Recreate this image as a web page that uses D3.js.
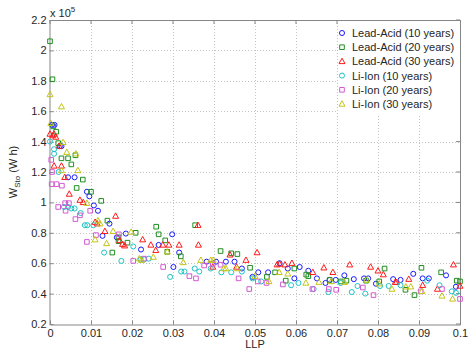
<!DOCTYPE html>
<html>
<head>
<meta charset="utf-8">
<script src="https://cdn.jsdelivr.net/npm/d3@7"></script>
<style>
  body { margin: 0; background: #fff; }
  svg { display: block; font-family: "Liberation Sans", Arial, sans-serif; }
</style>
</head>
<body>
<div id="chart"></div>
<script>
// x = LLP, y in units of 1e5 W h
const leadAcid10 = [[0.0005,1.51],[0.0011,1.51],[0.0024,1.37],[0.0028,1.37],[0.0044,1.165],[0.006,1.165],[0.009,1.07],[0.0096,1.04],[0.0107,0.98],[0.0117,0.945],[0.0128,0.78],[0.0145,0.86],[0.0163,0.77],[0.0185,0.795],[0.0222,0.69],[0.0265,0.72],[0.0298,0.79],[0.0301,0.575],[0.0315,0.67],[0.0382,0.61],[0.0405,0.61],[0.0429,0.61],[0.045,0.61],[0.0468,0.565],[0.0494,0.51],[0.0508,0.54],[0.0532,0.54],[0.056,0.6],[0.058,0.565],[0.0596,0.5],[0.0609,0.575],[0.063,0.55],[0.0651,0.5],[0.0672,0.47],[0.0682,0.49],[0.0697,0.49],[0.0718,0.52],[0.0741,0.495],[0.0766,0.5],[0.0776,0.5],[0.0795,0.465],[0.0837,0.495],[0.0855,0.49],[0.0886,0.53],[0.0909,0.5],[0.0924,0.5],[0.0966,0.52],[0.099,0.445]];
const leadAcid20 = [[0,2.06],[0.0006,1.81],[0.0008,1.5],[0.0015,1.465],[0.002,1.39],[0.0028,1.29],[0.0044,1.29],[0.0062,1.31],[0.0052,1.25],[0.008,1.15],[0.0065,1.095],[0.01,1.07],[0.0125,1.01],[0.014,0.88],[0.0152,0.67],[0.0167,0.745],[0.0167,0.77],[0.0189,0.735],[0.0209,0.8],[0.0259,0.84],[0.0265,0.79],[0.0281,0.75],[0.0286,0.675],[0.0319,0.645],[0.0354,0.85],[0.0416,0.68],[0.0442,0.665],[0.0457,0.66],[0.0488,0.57],[0.0529,0.51],[0.0549,0.54],[0.0575,0.485],[0.0596,0.565],[0.0625,0.525],[0.063,0.515],[0.0682,0.49],[0.0709,0.48],[0.0723,0.485],[0.0771,0.485],[0.0803,0.48],[0.0816,0.565],[0.0867,0.425],[0.0889,0.39],[0.0906,0.57],[0.0954,0.54],[0.0992,0.485],[0.1,0.48]];
const leadAcid30 = [[0,1.45],[0.001,1.45],[0.0007,1.44],[0.0014,1.43],[0.0022,1.37],[0.001,1.24],[0.0028,1.24],[0.0036,1.165],[0.0047,1.055],[0.0073,1.015],[0.0081,1.0],[0.011,0.87],[0.0115,0.86],[0.0134,0.81],[0.016,0.91],[0.017,0.75],[0.0177,0.725],[0.0182,0.715],[0.0226,0.755],[0.0246,0.72],[0.0258,0.685],[0.0275,0.72],[0.029,0.72],[0.0315,0.72],[0.0361,0.85],[0.0362,0.72],[0.0397,0.575],[0.0439,0.655],[0.0455,0.575],[0.0478,0.62],[0.0505,0.67],[0.0554,0.59],[0.056,0.595],[0.0573,0.59],[0.059,0.6],[0.0641,0.54],[0.0668,0.57],[0.069,0.54],[0.0731,0.59],[0.0782,0.575],[0.08,0.55],[0.0813,0.525],[0.0842,0.475],[0.0845,0.475],[0.0875,0.495],[0.0909,0.455],[0.0945,0.43],[0.0984,0.59],[0.1,0.45]];
const liIon10 = [[0,1.4],[0.001,1.35],[0.001,1.32],[0.0021,1.2],[0.0034,0.97],[0.0044,0.97],[0.0052,0.96],[0.006,0.96],[0.0075,0.93],[0.0085,0.85],[0.0091,0.85],[0.0106,0.85],[0.0132,0.67],[0.0174,0.615],[0.0203,0.71],[0.0221,0.625],[0.0241,0.63],[0.023,0.625],[0.032,0.545],[0.0328,0.545],[0.0293,0.51],[0.0353,0.565],[0.0364,0.545],[0.0392,0.565],[0.0418,0.54],[0.0442,0.54],[0.0468,0.545],[0.0494,0.5],[0.0515,0.48],[0.0588,0.455],[0.0606,0.47],[0.0643,0.43],[0.0679,0.41],[0.0709,0.47],[0.0736,0.41],[0.075,0.45],[0.0769,0.4],[0.0805,0.45],[0.0826,0.45],[0.0855,0.455],[0.092,0.485],[0.095,0.455],[0.098,0.415],[0.099,0.405]];
const liIon20 = [[0.0003,1.28],[0.0005,1.2],[0.0004,1.12],[0.0016,1.12],[0.0029,1.11],[0.002,0.97],[0.0037,0.995],[0.0046,0.995],[0.0038,0.945],[0.0062,0.89],[0.0073,0.915],[0.009,0.74],[0.0098,0.945],[0.0112,0.785],[0.0168,0.79],[0.0203,0.615],[0.0229,0.63],[0.0276,0.575],[0.034,0.515],[0.0356,0.5],[0.0376,0.585],[0.0397,0.595],[0.0416,0.59],[0.046,0.5],[0.0486,0.43],[0.0507,0.48],[0.0528,0.47],[0.0568,0.46],[0.064,0.43],[0.068,0.43],[0.0698,0.425],[0.0763,0.44],[0.0789,0.39],[0.0904,0.415],[0.0956,0.43],[0.1,0.365]];
const liIon30 = [[0,1.71],[0.0028,1.63],[0.0002,1.52],[0.0032,1.395],[0.0041,1.33],[0.0063,1.32],[0.0028,1.21],[0.0068,1.21],[0.009,0.995],[0.0117,0.88],[0.0122,0.86],[0.011,0.755],[0.0138,0.73],[0.0154,0.81],[0.0198,0.805],[0.0218,0.63],[0.0223,0.62],[0.0252,0.64],[0.0286,0.675],[0.0325,0.605],[0.0368,0.62],[0.0392,0.62],[0.0398,0.62],[0.0424,0.565],[0.0429,0.565],[0.0457,0.565],[0.05,0.515],[0.0534,0.48],[0.0559,0.54],[0.058,0.53],[0.0624,0.47],[0.0656,0.475],[0.0686,0.48],[0.0718,0.475],[0.0772,0.49],[0.0803,0.465],[0.0834,0.43],[0.0868,0.445],[0.088,0.445],[0.0907,0.415],[0.0956,0.385],[0.0982,0.365]];

const seriesNames = ['Lead-Acid (10 years)', 'Lead-Acid (20 years)', 'Lead-Acid (30 years)', 'Li-Ion (10 years)', 'Li-Ion (20 years)', 'Li-Ion (30 years)'];
const seriesData = [leadAcid10, leadAcid20, leadAcid30, liIon10, liIon20, liIon30];
const seriesColors = ['#1a1aff', '#1f8f1f', '#ff1a1a', '#1ec4c4', '#d25ad2', '#c4c41a'];
const seriesShapes = ['circle', 'square', 'triangle', 'circle', 'square', 'triangle'];

const xTicks = [0, 0.01, 0.02, 0.03, 0.04, 0.05, 0.06, 0.07, 0.08, 0.09, 0.1];
const xTickLabels = ['0', '0.01', '0.02', '0.03', '0.04', '0.05', '0.06', '0.07', '0.08', '0.09', '0.1'];
const yTicks = [0.2, 0.4, 0.6, 0.8, 1, 1.2, 1.4, 1.6, 1.8, 2, 2.2];
const yTickLabels = ['0.2', '0.4', '0.6', '0.8', '1', '1.2', '1.4', '1.6', '1.8', '2', '2.2'];

const width = 468, height = 349;
const mLeft = 50, mRight = 460, mTop = 20, mBottom = 324;
const axisColor = '#868686';

const svg = d3.select('#chart').append('svg')
    .attr('width', width)
    .attr('height', height);

const x = d3.scaleLinear().domain([0, 0.1]).range([mLeft, mRight]);
const y = d3.scaleLinear().domain([0.2, 2.2]).range([mBottom, mTop]);

// grid
const grid = svg.append('g')
    .attr('stroke', '#c4c4c4')
    .attr('stroke-width', 1)
    .attr('stroke-dasharray', '1,2');
xTicks.slice(1, -1).forEach(t => {
    grid.append('line')
        .attr('x1', Math.round(x(t)) + 0.5).attr('x2', Math.round(x(t)) + 0.5)
        .attr('y1', mTop).attr('y2', mBottom);
});
yTicks.slice(1, -1).forEach(t => {
    grid.append('line')
        .attr('y1', Math.round(y(t)) + 0.5).attr('y2', Math.round(y(t)) + 0.5)
        .attr('x1', mLeft).attr('x2', mRight);
});

// axes with inward ticks
const xAxis = d3.axisBottom(x).tickValues(xTicks).tickSize(-4).tickSizeOuter(0)
    .tickFormat((d, i) => xTickLabels[i]);
const yAxis = d3.axisLeft(y).tickValues(yTicks).tickSize(-4).tickSizeOuter(0)
    .tickFormat((d, i) => yTickLabels[i]);

const gx = svg.append('g').attr('transform', `translate(0,${mBottom + 0.5})`).call(xAxis);
const gy = svg.append('g').attr('transform', `translate(${mLeft - 0.5},0)`).call(yAxis);
[gx, gy].forEach(g => {
    g.select('.domain').attr('stroke', axisColor);
    g.selectAll('.tick line').attr('stroke', axisColor);
    g.selectAll('.tick text')
        .attr('fill', '#262626')
        .style('font-size', '11px')
        .style('font-family', '"Liberation Sans", Arial, sans-serif');
});
gx.selectAll('.tick text').attr('y', 3).attr('dy', '0.82em');
gy.selectAll('.tick text').attr('x', -3);

// top and right box edges
svg.append('line').attr('x1', mLeft).attr('x2', mRight).attr('y1', mTop + 0.5).attr('y2', mTop + 0.5).attr('stroke', axisColor);
svg.append('line').attr('x1', mRight + 0.5).attr('x2', mRight + 0.5).attr('y1', mTop).attr('y2', mBottom + 1).attr('stroke', axisColor);
xTicks.forEach(t => svg.append('line').attr('x1', x(t)).attr('x2', x(t)).attr('y1', mTop).attr('y2', mTop + 4).attr('stroke', axisColor));
yTicks.forEach(t => svg.append('line').attr('y1', y(t)).attr('y2', y(t)).attr('x1', mRight).attr('x2', mRight - 4).attr('stroke', axisColor));

function markerPath(shape) {
    if (shape === 'circle') return d3.symbol(d3.symbolCircle, 20)();
    if (shape === 'square') return 'M-2.3,-2.3H2.3V2.3H-2.3Z';
    return 'M0,-3.2L3,2.2L-3,2.2Z';
}

// points
seriesData.forEach((data, si) => {
    svg.append('g')
        .selectAll('path')
        .data(data)
        .join('path')
        .attr('d', markerPath(seriesShapes[si]))
        .attr('transform', d => `translate(${x(d[0])},${y(d[1])})`)
        .attr('fill', 'none')
        .attr('stroke', seriesColors[si])
        .attr('stroke-width', 1);
});

// exponent label
const expo = svg.append('text')
    .attr('x', 50).attr('y', 17)
    .attr('fill', '#262626')
    .style('font-size', '11px');
expo.append('tspan').text('x 10');
expo.append('tspan').attr('dy', -5).style('font-size', '8px').text('5');

// axis labels
svg.append('text')
    .attr('x', (mLeft + mRight) / 2).attr('y', 348)
    .attr('text-anchor', 'middle')
    .attr('fill', '#262626')
    .style('font-size', '11px')
    .text('LLP');

const yl = svg.append('text')
    .attr('transform', `translate(17,${(mTop + mBottom) / 2}) rotate(-90)`)
    .attr('text-anchor', 'middle')
    .attr('fill', '#262626')
    .style('font-size', '11px');
yl.append('tspan').text('W');
yl.append('tspan').attr('dy', 3).style('font-size', '8px').text('Sto');
yl.append('tspan').attr('dy', -3).text(' (W h)');

// legend
const legend = svg.append('g');
legend.append('rect')
    .attr('x', 338).attr('y', mTop + 1)
    .attr('width', mRight - 338).attr('height', 95)
    .attr('fill', '#fff');
seriesNames.forEach((name, i) => {
    const ly = 33 + i * 14.2;
    legend.append('path')
        .attr('d', markerPath(seriesShapes[i]))
        .attr('transform', `translate(342,${ly})`)
        .attr('fill', 'none')
        .attr('stroke', seriesColors[i]);
    legend.append('text')
        .attr('x', 352).attr('y', ly + 4)
        .attr('fill', '#262626')
        .style('font-size', '11px')
        .text(name);
});
</script>
</body>
</html>
